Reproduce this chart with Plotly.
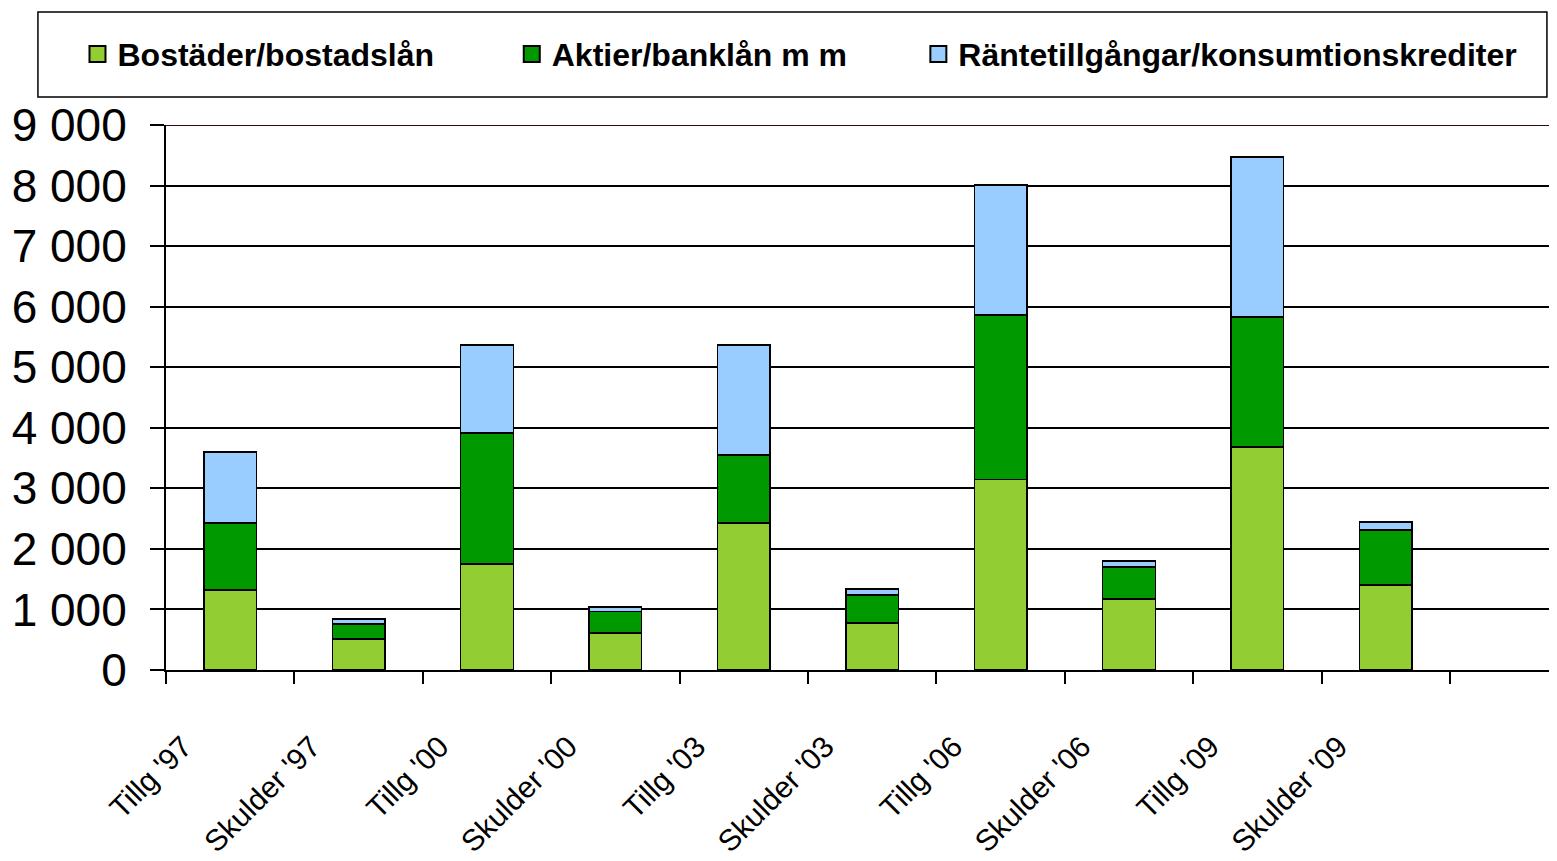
import plotly.graph_objects as go

# data (miljarder kr)
categories = ["Tillg '97", "Skulder '97", "Tillg '00", "Skulder '00", "Tillg '03",
              "Skulder '03", "Tillg '06", "Skulder '06", "Tillg '09", "Skulder '09"]
bostader = [1320, 510, 1750, 610, 2430, 780, 3150, 1170, 3680, 1400]
aktier = [1110, 250, 2160, 360, 1120, 460, 2710, 530, 2150, 910]
rante = [1170, 80, 1460, 70, 1820, 100, 2150, 100, 2640, 130]

series_names = ["Bostäder/bostadslån", "Aktier/banklån m m", "Räntetillgångar/konsumtionskrediter"]
series_colors = ["#92CD32", "#009900", "#99CCFF"]

FONT = "Liberation Sans, Arial, sans-serif"

fig = go.Figure()
for name, vals, col in zip(series_names, [bostader, aktier, rante], series_colors):
    fig.add_trace(go.Bar(x=categories, y=vals, name=name, marker_color=col,
                         marker_line=dict(color="black", width=1.5),
                         width=0.41, showlegend=False))

# legend entries, one legend each so they can be spaced like the original
legend_x = [-0.064, 0.25, 0.544]
for i, (name, col) in enumerate(zip(series_names, series_colors)):
    lg = "legend" if i == 0 else "legend%d" % (i + 1)
    fig.add_trace(go.Scatter(x=[categories[0]], y=[None], mode="markers", name=name,
                             marker=dict(symbol="square", size=18, color=col,
                                         line=dict(color="black", width=2)),
                             legend=lg, showlegend=True))

leg_common = dict(orientation="h", yanchor="middle", y=1.13, xanchor="left",
                  bgcolor="rgba(0,0,0,0)", borderwidth=0,
                  font=dict(family=FONT, size=32, color="black", weight="bold"))

# page has an 8px body margin; visible width ends at ~1549
fig.update_layout(
    width=1541, height=853,
    margin=dict(l=158, r=0, t=117, b=191, autoexpand=False),
    paper_bgcolor="white", plot_bgcolor="white",
    barmode="stack",
    separators=", ",
    legend=dict(x=legend_x[0], **leg_common),
    legend2=dict(x=legend_x[1], **leg_common),
    legend3=dict(x=legend_x[2], **leg_common),
    shapes=[
        dict(type="rect", xref="paper", yref="paper", x0=-0.0926, x1=0.9985, y0=1.0514, y1=1.2073,
             line=dict(color="black", width=1.5), fillcolor="rgba(0,0,0,0)", layer="below"),
        dict(type="line", xref="paper", yref="y", x0=0, x1=1, y0=9000, y1=9000,
             line=dict(color="#3a0808", width=2)),
    ],
)

# the original's last (empty) slot runs past the right edge of the picture
fig.update_xaxes(
    type="category", categoryorder="array", categoryarray=categories + [" "],
    range=[-0.5, 10.271], tickangle=-45, tickson="boundaries",
    ticks="outside", ticklen=12, tickwidth=2, tickcolor="black",
    showline=True, linecolor="black", linewidth=2, showgrid=False,
    ticklabelshift=-47, ticklabelstandoff=45,
    tickfont=dict(family=FONT, size=30, color="black"),
)
fig.update_yaxes(
    range=[0, 9000], dtick=1000, tickformat=",d",
    ticks="outside", ticklen=14, tickwidth=2, tickcolor="black",
    showline=True, linecolor="black", linewidth=2,
    showgrid=True, gridcolor="black", gridwidth=1.5,
    ticklabelstandoff=14,
    tickfont=dict(family=FONT, size=46, color="black"),
)

fig.write_html("out.html")
